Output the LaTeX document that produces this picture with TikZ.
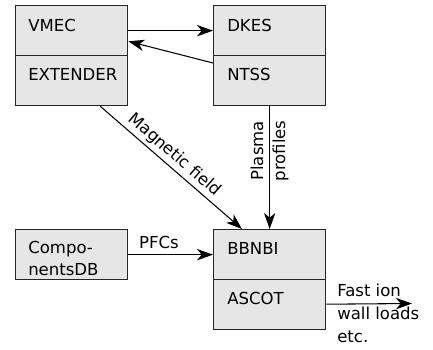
\documentclass[tikz,border=0pt]{standalone}
\usepackage{fontspec}
\setmainfont{DejaVu Sans}
\usetikzlibrary{arrows.meta}
\definecolor{boxgray}{HTML}{E6E6E6}
\begin{document}
\begin{tikzpicture}[x=0.75pt,y=-0.75pt,
  sect/.style={draw=black!85, line width=1pt, fill=boxgray, minimum width=84pt, minimum height=37.5pt, anchor=north west, inner sep=0pt},
  lbl/.style={anchor=base west, inner sep=0pt, font=\fontsize{12.4pt}{16.5pt}\selectfont},
  txt/.style={font=\fontsize{12.4pt}{16.5pt}\selectfont, inner sep=0pt},
  arr/.style={draw=black, line width=0.8pt, -{Stealth[length=12pt,width=8.5pt,inset=3.5pt]}}]
\useasboundingbox (0,0) rectangle (433,350);
% boxes
\node[sect] (vmec) at (15,5) {};
\node[sect] (ext) at (15,55) {};
\node[sect] (dkes) at (213,5) {};
\node[sect] (ntss) at (213,55) {};
\node[sect] (comp) at (15,229) {};
\node[sect] (bbnbi) at (213,229) {};
\node[sect] (ascot) at (213,279) {};
% box texts
\node[lbl] (tvmec) at (28,31) {VMEC};
\node[lbl] (text) at (28,80) {EXTENDER};
\node[lbl] (tdkes) at (227,31) {DKES};
\node[lbl] (tntss) at (227,80) {NTSS};
\node[lbl] (tbbnbi) at (227,254) {BBNBI};
\node[lbl] (tascot) at (227,304) {ASCOT};
\node[txt, anchor=west, align=left] (tcomp) at (28,258) {Compo-\\nentsDB};
% connectors
\draw[arr] (vmec) -- (dkes);
\draw[arr] ([yshift=-6pt]ntss.north west) -- ([yshift=11.25pt]vmec.south east);
\draw[arr] ([xshift=-21pt]ext.south east) -- node[txt, sloped, above, pos=0.47, inner sep=2.5pt] (lmag) {Magnetic field} ([xshift=21.75pt]bbnbi.north west);
\draw[arr] (ntss.south) -- node[txt, rotate=90, align=center, pos=0.363] (lplasma) {Plasma\\profiles} (bbnbi.north);
\draw[arr] (comp) -- (bbnbi);
\node[txt, anchor=base] (lpfc) at (159,248) {PFCs};
\coordinate (out) at (412,303.5);
\draw[arr] (ascot) -- (out);
\node[txt, anchor=west, align=left, font=\fontsize{12.4pt}{17.25pt}\selectfont] (lfast) at (337,313) {Fast ion\\wall loads\\etc.};
\end{tikzpicture}
\end{document}
